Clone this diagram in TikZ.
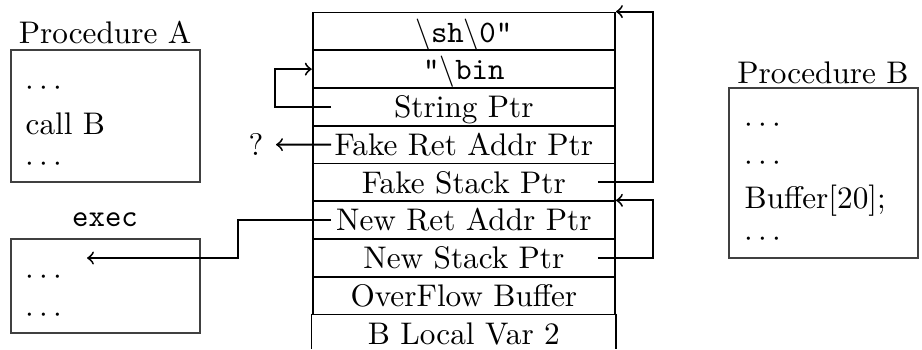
\documentclass[tikz,border=0pt]{standalone}
\usetikzlibrary{calc}
\begin{document}
\begin{tikzpicture}[x=0.32pt, y=-0.32pt,
  cell/.style={draw, line width=0.6pt, minimum width=96.74pt, minimum height=12.08pt,
    inner sep=0pt, text height=8.8pt, text depth=2pt, anchor=center},
  lastcell/.style={cell, draw=none},
  box/.style={draw=black!75, line width=0.45pt, inner sep=0pt, minimum width=60.48pt},
  title/.style={anchor=base, inner sep=0pt},
  txt/.style={anchor=base west, inner sep=0pt},
  conn/.style={->, line width=0.6pt}]
\useasboundingbox (0,0) rectangle (922,349);

% stack
\node[cell] (r1) at (463.85,31.375) {$\backslash$\texttt{sh}$\backslash$\texttt{0"}};
\node[cell] (r2) at (463.85,69.125) {\texttt{"}$\backslash$\texttt{bin}};
\node[cell] (r3) at (463.85,106.875) {String Ptr};
\node[cell] (r4) at (463.85,144.625) {Fake Ret Addr Ptr};
\node[cell] (r5) at (463.85,182.375) {Fake Stack Ptr};
\node[cell] (r6) at (463.85,220.125) {New Ret Addr Ptr};
\node[cell] (r7) at (463.85,257.875) {New Stack Ptr};
\node[cell] (r8) at (463.85,295.625) {OverFlow Buffer};
\node[lastcell] (r9) at (463.85,333.375) {B Local Var 2};
\coordinate (bot) at (0,349);
\draw[line width=0.45pt] (r9.north west) -- (r9.west |- bot);
\draw[line width=0.45pt] (r9.north east) -- (r9.east |- bot);

% procedure A
\node[title] (tA) at (105,43) {Procedure A};
\node[box, minimum height=42.24pt] (pA) at (105.5,116) {};
\node[txt] (a1) at (25,95.3) {$\cdots$};
\node[txt] (a2) at (25,134) {call B};
\node[txt] (a3t) at (25,171.3) {$\cdots$};

% exec
\node[title] (tE) at (105,226) {\texttt{exec}};
\node[box, minimum height=30.08pt] (pE) at (105.5,286) {};
\node[txt] (e1) at (25,284.5) {$\cdots$};
\node[txt] (e2) at (25,322.1) {$\cdots$};
\coordinate (execin) at (87,258);

% procedure B
\node[title] (tB) at (823,83) {Procedure B};
\node[box, minimum height=54.4pt] (pB) at (823.5,173) {};
\node[txt] (b1) at (744,132.8) {$\cdots$};
\node[txt] (b2) at (744,170.8) {$\cdots$};
\node[txt] (b3) at (744,208.8) {Buffer[20];};
\node[txt] (b4) at (744,246.8) {$\cdots$};

% question mark
\node[inner sep=0pt, inner xsep=3.84pt] (q) at (256,144.6) {?};

% connector anchors
\coordinate (lx) at (275,0);
\coordinate (rx) at (653,0);
\coordinate (mx) at (238,0);
\coordinate (s3) at ($(r3.west)+(19.3,0)$);
\coordinate (s4) at ($(r4.west)+(19.3,0)$);
\coordinate (s6) at ($(r6.west)+(19.3,0)$);
\coordinate (s5) at ($(r5.east)+(-18,0)$);
\coordinate (s7) at ($(r7.east)+(-18,0)$);

% connectors
\draw[conn] (s3) -- (s3 -| lx) |- (r2.west);
\draw[conn] (s4) -- (q.east);
\draw[conn] (s5) -- (s5 -| rx) |- (r1.north east);
\draw[conn] (s7) -- (s7 -| rx) |- (r6.north east);
\draw[conn] (s6) -- (s6 -| mx) |- (execin);
\end{tikzpicture}
\end{document}
